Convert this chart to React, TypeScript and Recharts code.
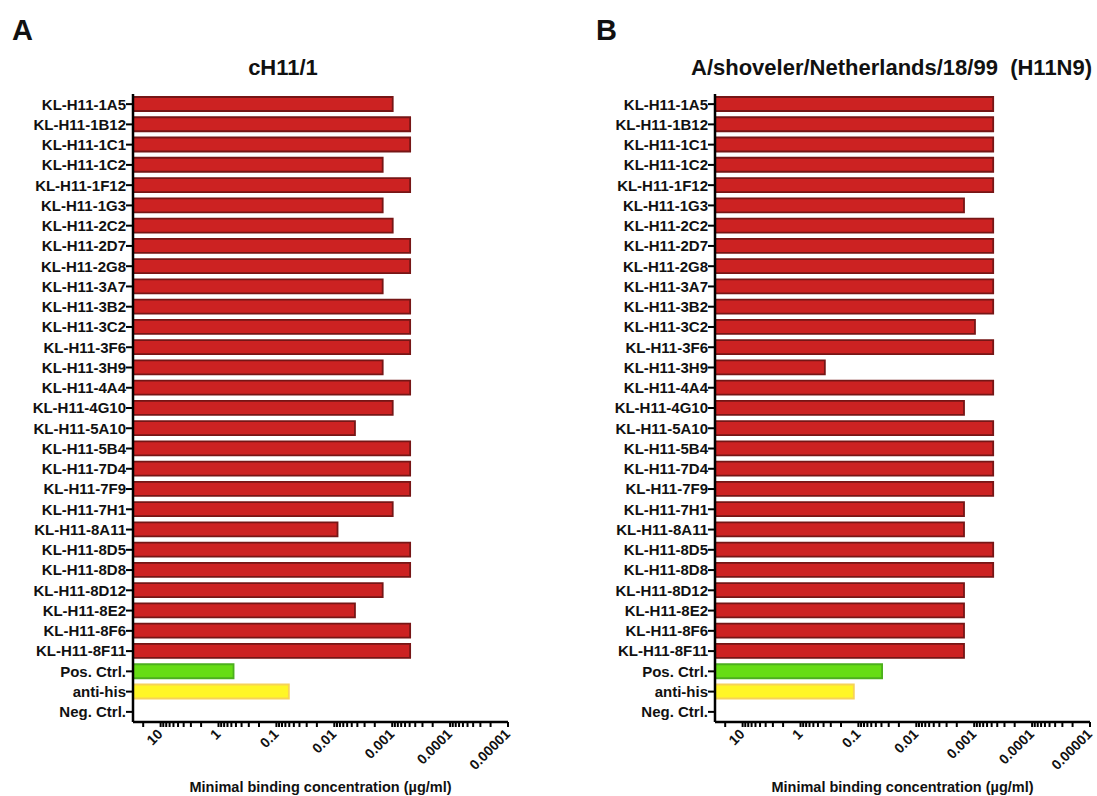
import React from 'react';
import { BarChart, Bar, XAxis, YAxis, Cell } from 'recharts';

const categories = [
  'KL-H11-1A5', 'KL-H11-1B12', 'KL-H11-1C1', 'KL-H11-1C2', 'KL-H11-1F12', 'KL-H11-1G3',
  'KL-H11-2C2', 'KL-H11-2D7', 'KL-H11-2G8', 'KL-H11-3A7', 'KL-H11-3B2', 'KL-H11-3C2',
  'KL-H11-3F6', 'KL-H11-3H9', 'KL-H11-4A4', 'KL-H11-4G10', 'KL-H11-5A10', 'KL-H11-5B4',
  'KL-H11-7D4', 'KL-H11-7F9', 'KL-H11-7H1', 'KL-H11-8A11', 'KL-H11-8D5', 'KL-H11-8D8',
  'KL-H11-8D12', 'KL-H11-8E2', 'KL-H11-8F6', 'KL-H11-8F11', 'Pos. Ctrl.', 'anti-his', 'Neg. Ctrl.',
];

// Minimal binding concentration (µg/ml), panel A: cH11/1
const panelAValues: (number | null)[] = [
  0.00098, 0.00049, 0.00049, 0.00146, 0.00049, 0.00146,
  0.00098, 0.00049, 0.00049, 0.00146, 0.00049, 0.00049,
  0.00049, 0.00146, 0.00049, 0.00098, 0.0044, 0.00049,
  0.00049, 0.00049, 0.00098, 0.0088, 0.00049, 0.00049,
  0.00146, 0.0044, 0.00049, 0.00049, 0.55, 0.061, null,
];

// Panel B: A/shoveler/Netherlands/18/99 (H11N9)
const panelBValues: (number | null)[] = [
  0.00047, 0.00047, 0.00047, 0.00047, 0.00047, 0.0015,
  0.00047, 0.00047, 0.00047, 0.00047, 0.00047, 0.00097,
  0.00047, 0.38, 0.00047, 0.0015, 0.00047, 0.00047,
  0.00047, 0.00047, 0.0015, 0.0015, 0.00047, 0.00047,
  0.0015, 0.0015, 0.0015, 0.0015, 0.039, 0.12, null,
];

const majorTicks = [10, 1, 0.1, 0.01, 0.001, 0.0001, 0.00001];
const majorTickLabels = ['10', '1', '0.1', '0.01', '0.001', '0.0001', '0.00001'];
const minorSteps = [2, 3, 4, 5, 6, 7, 8, 9];
const extraMinorTicks = [20];

const DOMAIN_MIN = 0.00001;
const DOMAIN_MAX = 30;

const allTicks = [
  ...extraMinorTicks,
  ...majorTicks,
  ...majorTicks.slice(1).flatMap((b) => minorSteps.map((m) => m * b)),
];

const FONT = 'Arial, "Liberation Sans", Helvetica, sans-serif';

const colorFor = (name: string) => {
  if (name === 'Pos. Ctrl.') return { fill: '#66dd14', stroke: '#4caf1e' };
  if (name === 'anti-his') return { fill: '#fff626', stroke: '#f6d258' };
  return { fill: '#cc2222', stroke: '#761616' };
};

const XTick = (props: any) => {
  const { x, y, payload } = props;
  const v = payload.value;
  const idx = majorTicks.findIndex((t) => Math.abs(Math.log10(t) - Math.log10(v)) < 1e-6);
  const ax = x + 3;
  const ay = y + 13;
  return (
    <g>
      <line x1={x} x2={x} y1={y} y2={y + 5} stroke="#000" strokeWidth={2} />
      {idx >= 0 && (
        <text
          x={ax}
          y={ay}
          transform={`rotate(-45 ${ax} ${ay})`}
          textAnchor="end"
          fontSize={14}
          fontWeight="bold"
          fontFamily={FONT}
          fill="#111"
        >
          {majorTickLabels[idx]}
        </text>
      )}
    </g>
  );
};

const YTick = (props: any) => {
  const { x, y, payload } = props;
  return (
    <g>
      <line x1={x - 7} x2={x} y1={y} y2={y} stroke="#000" strokeWidth={2} />
      <text
        x={x - 7}
        y={y}
        dy="0.36em"
        textAnchor="end"
        fontSize={15}
        fontWeight="bold"
        fontFamily={FONT}
        fill="#111"
      >
        {payload.value}
      </text>
    </g>
  );
};

function Panel({ values, width, marginRight }: { values: (number | null)[]; width: number; marginRight: number }) {
  const data = categories.map((name, i) => ({ name, value: values[i] }));
  return (
    <BarChart
      width={width}
      height={796}
      data={data}
      layout="vertical"
      margin={{ top: 94, right: marginRight, bottom: 0, left: 0 }}
      barCategoryGap={0}
    >
      <Bar
        dataKey={(d: any) => (d.value == null ? null : [DOMAIN_MAX, d.value])}
        barSize={14}
        strokeWidth={1.8}
        isAnimationActive={false}
      >
        {data.map((d) => {
          const c = colorFor(d.name);
          return <Cell key={d.name} fill={c.fill} stroke={c.stroke} />;
        })}
      </Bar>
      <XAxis
        type="number"
        scale="log"
        domain={[DOMAIN_MIN, DOMAIN_MAX]}
        reversed
        allowDataOverflow
        ticks={allTicks}
        interval={0}
        tickLine={false}
        tickSize={0}
        tickMargin={0}
        tick={<XTick />}
        axisLine={{ stroke: '#000', strokeWidth: 2.5 }}
        height={74}
      />
      <YAxis
        type="category"
        dataKey="name"
        width={133}
        interval={0}
        tickLine={false}
        tickSize={0}
        tickMargin={0}
        tick={<YTick />}
        axisLine={{ stroke: '#000', strokeWidth: 2.5 }}
      />
    </BarChart>
  );
}

export default function App() {
  return (
    <div
      style={{
        position: 'absolute',
        left: 0,
        top: 0,
        width: 1097,
        height: 796,
        overflow: 'hidden',
        background: '#fff',
      }}
    >
      <div style={{ position: 'absolute', left: 0, top: 0 }}>
        <Panel values={panelAValues} width={560} marginRight={52} />
      </div>
      <div style={{ position: 'absolute', left: 582, top: 0 }}>
        <Panel values={panelBValues} width={515} marginRight={7} />
      </div>
      <svg
        width={1097}
        height={796}
        style={{ position: 'absolute', left: 0, top: 0, pointerEvents: 'none' }}
      >
        <g fontFamily={FONT} fontWeight="bold" fill="#111">
          <text x={12} y={40} fontSize={29}>A</text>
          <text x={596} y={40} fontSize={29}>B</text>
          <text x={283} y={75} fontSize={22} textAnchor="middle">cH11/1</text>
          <text x={691} y={75} fontSize={22} style={{ whiteSpace: 'pre' }}>A/shoveler/Netherlands/18/99  (H11N9)</text>
          <text x={320.5} y={792} fontSize={14.5} textAnchor="middle">Minimal binding concentration (µg/ml)</text>
          <text x={902.5} y={792} fontSize={14.5} textAnchor="middle">Minimal binding concentration (µg/ml)</text>
        </g>
      </svg>
    </div>
  );
}
